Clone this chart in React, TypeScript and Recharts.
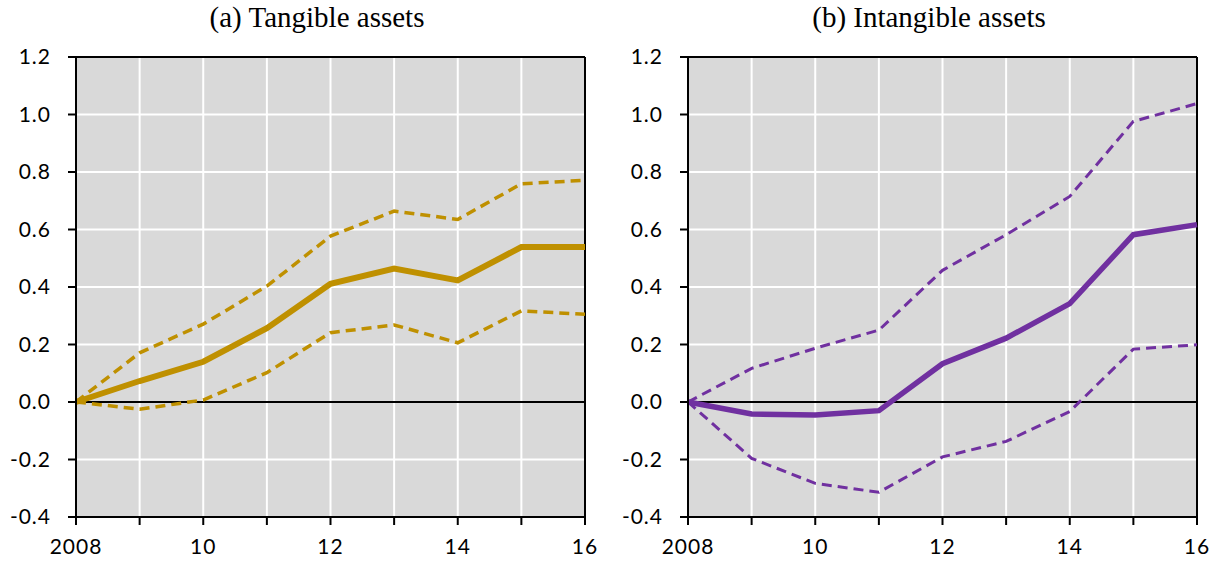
import { LineChart, Line, XAxis, YAxis, CartesianGrid, ReferenceLine } from "recharts";

const years = [2008, 2009, 2010, 2011, 2012, 2013, 2014, 2015, 2016];
const yTicks = [-0.4, -0.2, 0, 0.2, 0.4, 0.6, 0.8, 1.0, 1.2];

// (a) tangible assets: point estimate with upper / lower bands
const tangibleMid = [0, 0.073, 0.14, 0.257, 0.411, 0.464, 0.423, 0.539, 0.539];
const tangibleHigh = [0, 0.171, 0.271, 0.403, 0.577, 0.664, 0.635, 0.759, 0.771];
const tangibleLow = [0, -0.025, 0.007, 0.102, 0.241, 0.268, 0.206, 0.317, 0.305];

// (b) intangible assets
const intangibleMid = [0, -0.042, -0.045, -0.03, 0.133, 0.222, 0.342, 0.582, 0.617];
const intangibleHigh = [0, 0.117, 0.187, 0.25, 0.458, 0.582, 0.715, 0.976, 1.038];
const intangibleLow = [0, -0.196, -0.283, -0.314, -0.191, -0.137, -0.033, 0.184, 0.199];

const GOLD = "#BF9000";
const PURPLE = "#7030A0";
const TICK_FONT = "Lato, 'Open Sans', sans-serif";
const tickStyle = { fill: "#000", fontSize: 21, fontFamily: TICK_FONT, letterSpacing: 1 };

function rows(mid: number[], high: number[], low: number[]) {
  return years.map((year, i) => ({ year, mid: mid[i], high: high[i], low: low[i] }));
}

function yearLabel(v: number) {
  if (v === 2008) return "2008";
  return v % 2 === 0 ? String(v - 2000) : "";
}

type PanelProps = {
  title: string;
  left: number;
  color: string;
  data: { year: number; mid: number; high: number; low: number }[];
  midWidth: number;
  bandWidth: number;
};

function Panel({ title, left, color, data, midWidth, bandWidth }: PanelProps) {
  return (
    <div style={{ position: "absolute", left, top: 0, width: 606, height: 565 }}>
      <div
        style={{
          position: "absolute",
          left: 76 - 13,
          width: 508,
          top: 1,
          textAlign: "center",
          fontFamily: "'Liberation Serif', 'Times New Roman', serif",
          fontSize: 29,
          color: "#000",
        }}
      >
        {title}
      </div>
      <LineChart width={606} height={565} data={data} margin={{ top: 57, right: 21, bottom: 18, left: 0 }}>
        <CartesianGrid fill="#D9D9D9" stroke="#FFFFFF" strokeWidth={2} />
        <XAxis
          dataKey="year"
          type="number"
          domain={[2008, 2016]}
          ticks={years}
          interval={0}
          tickFormatter={yearLabel}
          height={30}
          axisLine={{ stroke: "#000", strokeWidth: 2 }}
          tickLine={{ stroke: "#000", strokeWidth: 2 }}
          tickSize={8}
          tickMargin={14}
          tick={tickStyle}
        />
        <YAxis
          type="number"
          domain={[-0.4, 1.2]}
          ticks={yTicks}
          interval={0}
          width={76}
          tickFormatter={(v: number) => v.toFixed(1)}
          axisLine={{ stroke: "#000", strokeWidth: 2 }}
          tickLine={{ stroke: "#000", strokeWidth: 2 }}
          tickSize={8}
          tickMargin={17}
          tick={tickStyle}
        />
        <ReferenceLine y={1.2} stroke="#000" strokeWidth={2} />
        <ReferenceLine x={2016} stroke="#000" strokeWidth={2} />
        <ReferenceLine y={0} stroke="#000" strokeWidth={2} />
        <Line dataKey="high" stroke={color} strokeWidth={bandWidth} strokeDasharray="10 6" dot={false} isAnimationActive={false} />
        <Line dataKey="low" stroke={color} strokeWidth={bandWidth} strokeDasharray="10 6" dot={false} isAnimationActive={false} />
        <Line dataKey="mid" stroke={color} strokeWidth={midWidth} dot={false} isAnimationActive={false} />
      </LineChart>
    </div>
  );
}

export default function App() {
  return (
    <div style={{ position: "absolute", left: 0, top: 0, width: 1218, height: 565, background: "#fff" }}>
      <Panel
        title="(a) Tangible assets"
        left={0}
        color={GOLD}
        data={rows(tangibleMid, tangibleHigh, tangibleLow)}
        midWidth={6}
        bandWidth={3.5}
      />
      <Panel
        title="(b) Intangible assets"
        left={612}
        color={PURPLE}
        data={rows(intangibleMid, intangibleHigh, intangibleLow)}
        midWidth={5.5}
        bandWidth={3}
      />
    </div>
  );
}
